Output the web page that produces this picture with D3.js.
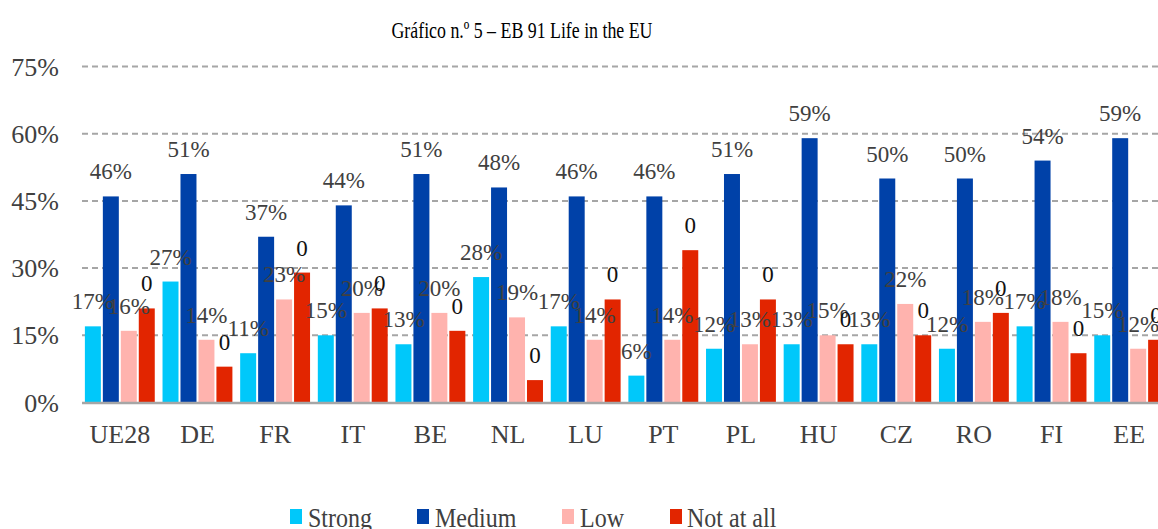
<!DOCTYPE html>
<html>
<head>
<meta charset="utf-8">
<script src="https://cdn.jsdelivr.net/npm/d3@7"></script>
<style>
  body { margin: 0; background: #fff; overflow: hidden; }
</style>
</head>
<body>
<div id="chart"></div>
<script>
// data
const countries = ['UE28', 'DE', 'FR', 'IT', 'BE', 'NL', 'LU', 'PT', 'PL', 'HU', 'CZ', 'RO', 'FI', 'EE'];
const seriesNames = ['Strong', 'Medium', 'Low', 'Not at all'];
const strong = [17, 27, 11, 15, 13, 28, 17, 6, 12, 13, 13, 12, 17, 15];
const medium = [46, 51, 37, 44, 51, 48, 46, 46, 51, 59, 50, 50, 54, 59];
const low = [16, 14, 23, 20, 20, 19, 14, 14, 13, 15, 22, 18, 18, 12];
const notAtAll = [21, 8, 29, 21, 16, 5, 23, 34, 23, 13, 15, 20, 11, 14];
const yTicks = [0, 15, 30, 45, 60, 75];
const colors = ['#00c8fa', '#0041a8', '#ffb3ae', '#e22500'];

const FONT = 'Liberation Serif, Times New Roman, serif';
const width = 1158;
const height = 529;
const margin = { top: 66, bottom: 127, left: 82, right: -10 };

const values = [strong, medium, low, notAtAll];
const rows = countries.map((c, i) => ({
  country: c,
  vals: seriesNames.map((s, j) => ({ key: s, idx: j, value: values[j][i] }))
}));

const svg = d3.select('#chart')
  .append('svg')
  .attr('width', width)
  .attr('height', height)
  .style('font-family', FONT);

//x-as: landen en daarbinnen de series
const x0 = d3.scaleBand()
  .domain(countries)
  .range([margin.left - 1, width - margin.right])
  .paddingInner(0.1)
  .paddingOuter(0.05);

const x1 = d3.scaleBand()
  .domain(seriesNames)
  .range([0, x0.bandwidth()])
  .paddingInner(0.11);

const y = d3.scaleLinear()
  .domain([0, 75])
  .range([height - margin.bottom + 0.5, margin.top + 0.5]);

// title
svg.append('text')
  .attr('x', 522)
  .attr('y', 38)
  .attr('text-anchor', 'middle')
  .style('font-family', FONT)
  .style('font-size', '23px')
  .attr('textLength', 261)
  .attr('lengthAdjust', 'spacingAndGlyphs')
  .attr('fill', '#000')
  .text('Gráfico n.º 5 – EB 91 Life in the EU');

// gridlines
svg.append('g')
  .selectAll('line')
  .data(yTicks.filter(d => d > 0))
  .join('line')
  .attr('x1', margin.left)
  .attr('x2', width)
  .attr('y1', d => y(d))
  .attr('y2', d => y(d))
  .attr('stroke', '#a6a6a6')
  .attr('stroke-width', 2)
  .attr('stroke-dasharray', '6,4');

// y-as labels
const yAxis = svg.append('g')
  .attr('transform', `translate(59,0)`)
  .call(d3.axisLeft(y).tickValues(yTicks).tickFormat(d => d + '%').tickSize(0).tickPadding(0));
yAxis.select('.domain').remove();
yAxis.selectAll('text')
  .style('font-family', FONT)
  .style('font-size', '26px')
  .attr('fill', '#404040')
  .attr('dy', '0.33em');

// bars
const groups = svg.append('g')
  .selectAll('g')
  .data(rows)
  .join('g')
  .attr('transform', d => `translate(${x0(d.country)},0)`);

groups.selectAll('rect')
  .data(d => d.vals)
  .join('rect')
  .attr('x', d => x1(d.key))
  .attr('y', d => y(d.value))
  .attr('width', x1.bandwidth())
  .attr('height', d => y(0) - y(d.value))
  .attr('fill', d => colors[d.idx]);

// data labels (Not at all toont "0")
groups.selectAll('text')
  .data(d => d.vals)
  .join('text')
  .attr('x', d => x1(d.key) + x1.bandwidth() / 2)
  .attr('y', d => y(d.value) - 17)
  .attr('text-anchor', 'middle')
  .style('font-family', FONT)
  .style('font-size', '23px')
  .attr('fill', d => d.idx === 3 ? '#111' : '#404040')
  .text(d => d.idx === 3 ? '0' : d.value + '%');

// x-as baseline
svg.append('line')
  .attr('x1', margin.left)
  .attr('x2', width)
  .attr('y1', y(0) + 0.5)
  .attr('y2', y(0) + 0.5)
  .attr('stroke', '#a6a6a6')
  .attr('stroke-width', 2.5);

// x-as labels
const xAxis = svg.append('g')
  .attr('transform', `translate(0,${y(0)})`)
  .call(d3.axisBottom(x0).tickSize(0).tickPadding(0));
xAxis.select('.domain').remove();
xAxis.selectAll('text')
  .style('font-family', FONT)
  .style('font-size', '26px')
  .attr('fill', '#404040')
  .attr('dy', 0)
  .attr('y', 40.5);

// legend
const legendX = [290, 417, 562, 670];
const legend = svg.append('g')
  .selectAll('g')
  .data(seriesNames)
  .join('g')
  .attr('transform', (d, i) => `translate(${legendX[i]},509)`);

legend.append('rect')
  .attr('width', 12)
  .attr('height', 15)
  .attr('fill', (d, i) => colors[i]);

// tekst iets hoger getrokken zoals in het origineel
legend.append('text')
  .attr('transform', (d, i) => `translate(${i === 3 ? 17 : 18},18) scale(1,1.15)`)
  .style('font-family', FONT)
  .style('font-size', '24px')
  .attr('fill', '#404040')
  .text(d => d);
</script>
</body>
</html>
